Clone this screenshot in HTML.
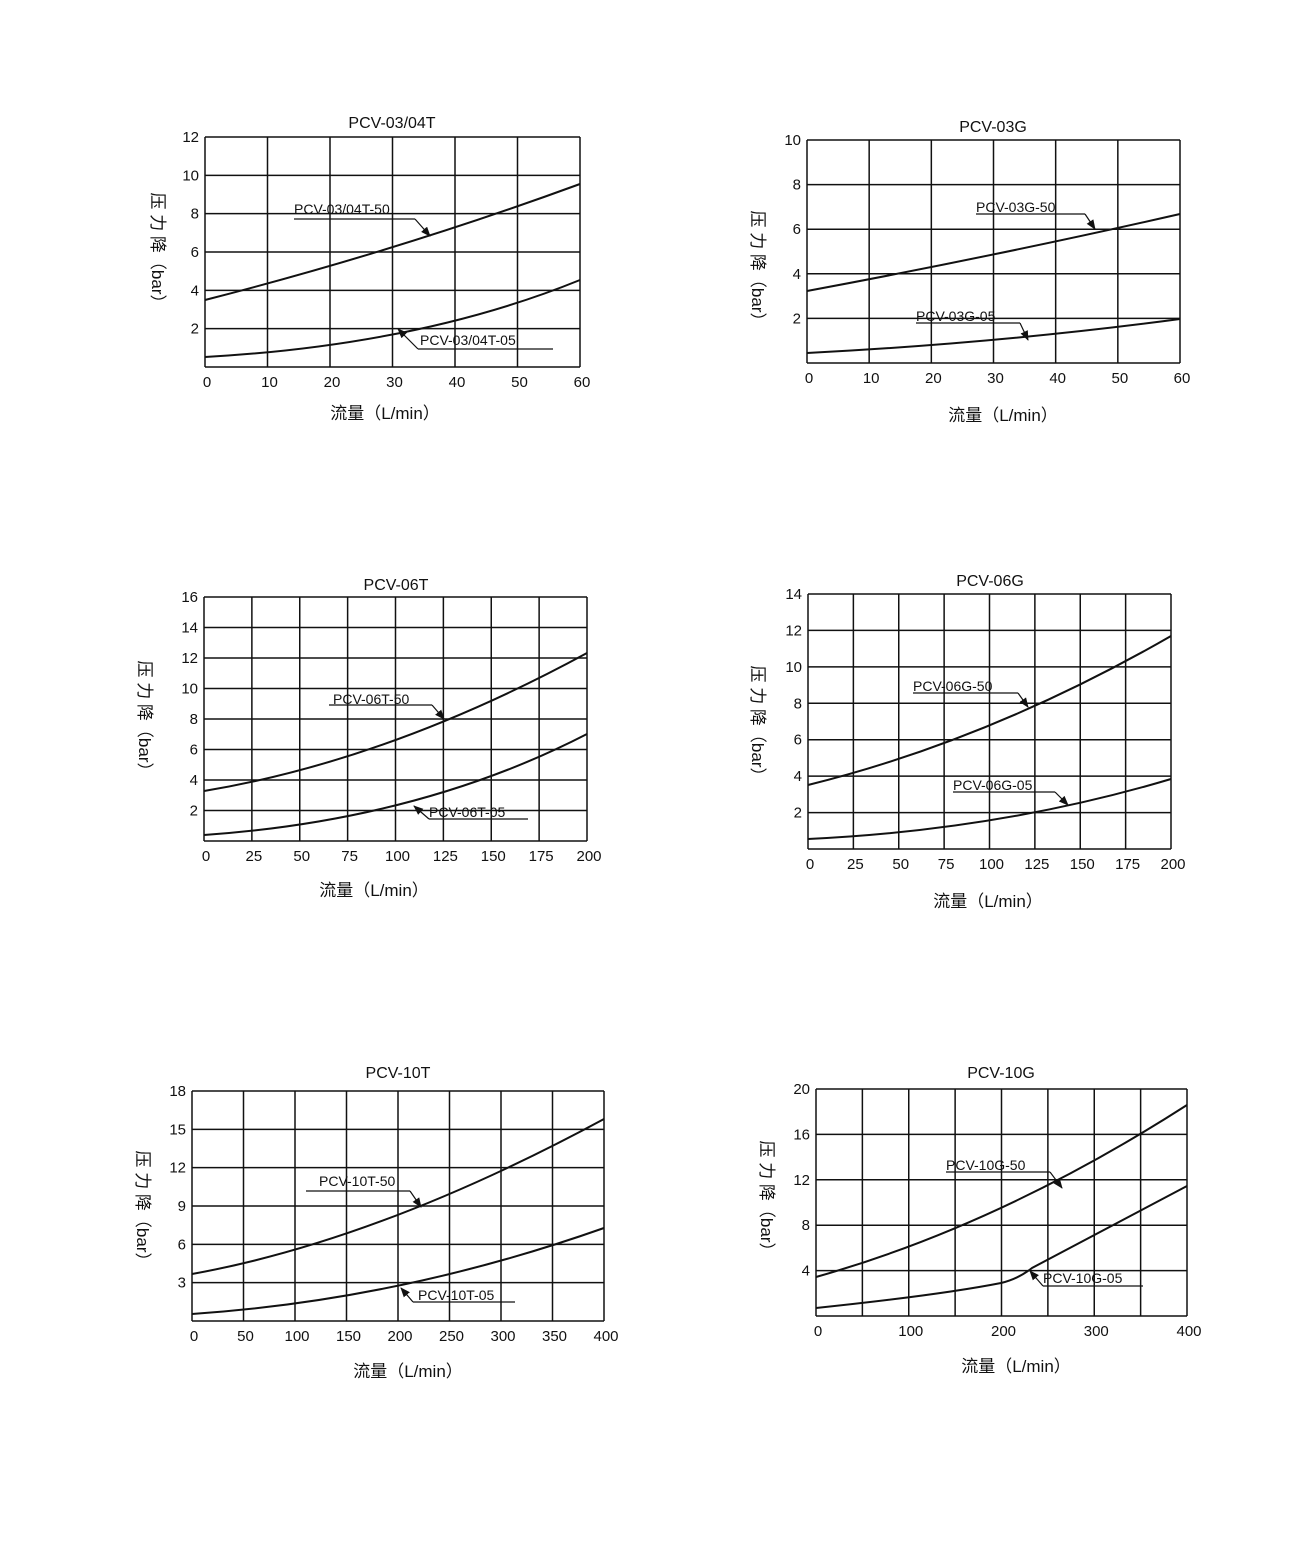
<!DOCTYPE html>
<html><head><meta charset="utf-8"><style>
html,body{margin:0;padding:0;background:#fff;}
svg{display:block;font-family:"Liberation Sans","Noto Sans CJK SC",sans-serif;}
</style></head><body>
<svg id="s" width="1300" height="1551" viewBox="0 0 1300 1551" xmlns="http://www.w3.org/2000/svg">
<defs><marker id="a" markerWidth="10" markerHeight="8" refX="9" refY="4" orient="auto" markerUnits="userSpaceOnUse"><path d="M0,0 L10,4 L0,8 Z" fill="#111"/></marker></defs>
</svg>
<script>
const s=document.getElementById('s');const NS='http://www.w3.org/2000/svg';
function el(t,a,txt){const e=document.createElementNS(NS,t);for(const k in a)e.setAttribute(k,a[k]);if(txt!==undefined)e.textContent=txt;s.appendChild(e);return e;}
const charts=[
{t:'PCV-03/04T',x0:205,x1:580,y0:137,y1:367,nx:6,ny:6,xl:['0','10','20','30','40','50','60'],xs:1,yl:['','2','4','6','8','10','12'],tx:392,ty:128,yx:158,yy:252,ax:385,ay:419,
 c:['M205,300 Q400,250 580,184','M205,357 Q420,345 580,280'],
 L:[['PCV-03/04T-50',294,214,294,415,219,430,236],['PCV-03/04T-05',420,345,418,553,349,398,329]]},
{t:'PCV-03G',x0:807,x1:1180,y0:140,y1:363,nx:6,ny:5,xl:['0','10','20','30','40','50','60'],xs:1,yl:['','2','4','6','8','10'],tx:993,ty:132,yx:758,yy:270,ax:1003,ay:421,
 c:['M807,291 Q1000,255 1180,214','M807,353 Q1000,343 1180,319'],
 L:[['PCV-03G-50',976,212,976,1085,214,1095,229],['PCV-03G-05',916,321,916,1020,323,1028,340]]},
{t:'PCV-06T',x0:204,x1:587,y0:597,y1:841,nx:8,ny:8,xl:['0','25','50','75','100','125','150','175','200'],xs:1,yl:['','2','4','6','8','10','12','14','16'],tx:396,ty:590,yx:145,yy:720,ax:374,ay:896,
 c:['M204,791 Q390,760 587,653','M204,835 Q420,820 587,734'],
 L:[['PCV-06T-50',333,704,329,432,705,444,719],['PCV-06T-05',429,817,429,528,819,414,806]]},
{t:'PCV-06G',x0:808,x1:1171,y0:594,y1:849,nx:8,ny:7,xl:['0','25','50','75','100','125','150','175','200'],xs:1,yl:['','2','4','6','8','10','12','14'],tx:990,ty:586,yx:758,yy:725,ax:988,ay:907,
 c:['M808,785 Q990,740 1171,636','M808,839 Q1000,830 1171,779'],
 L:[['PCV-06G-50',913,691,913,1018,693,1028,707],['PCV-06G-05',953,790,953,1055,792,1068,805]]},
{t:'PCV-10T',x0:192,x1:604,y0:1091,y1:1321,nx:8,ny:6,xl:['0','50','100','150','200','250','300','350','400'],xs:1,yl:['','3','6','9','12','15','18'],tx:398,ty:1078,yx:143,yy:1210,ax:408,ay:1377,
 c:['M192,1274 Q380,1240 604,1119','M192,1314 Q400,1300 604,1228'],
 L:[['PCV-10T-50',319,1186,306,410,1191,421,1207],['PCV-10T-05',418,1300,413,515,1302,401,1288]]},
{t:'PCV-10G',x0:816,x1:1187,y0:1089,y1:1316,nx:8,ny:5,xl:['0','100','200','300','400'],xs:2,yl:['','4','8','12','16','20'],tx:1001,ty:1078,yx:767,yy:1200,ax:1016,ay:1372,
 c:['M816,1277 Q1000,1225 1187,1105','M816,1308 Q940,1295 1001,1283 Q1018,1279 1032,1268 L1187,1186'],
 L:[['PCV-10G-50',946,1170,946,1050,1172,1062,1188],['PCV-10G-05',1043,1283,1043,1143,1286,1030,1271]]}
];
for(const c of charts){
 const w=c.x1-c.x0,h=c.y1-c.y0;
 for(let i=0;i<=c.nx;i++){const x=c.x0+w*i/c.nx;el('line',{x1:x,y1:c.y0,x2:x,y2:c.y1,stroke:'#111','stroke-width':1.5});}
 for(let j=0;j<=c.ny;j++){const y=c.y1-h*j/c.ny;el('line',{x1:c.x0,y1:y,x2:c.x1,y2:y,stroke:'#111','stroke-width':1.5});
  el('text',{x:c.x0-6,y:y+5,'text-anchor':'end','font-size':15,fill:'#111'},c.yl[j]);}
 c.xl.forEach((l,i)=>{const x=c.x0+w*i*c.xs/c.nx;el('text',{x:x+2,y:c.y1+20,'text-anchor':'middle','font-size':15,fill:'#111'},l);});
 el('text',{x:c.tx,y:c.ty,'text-anchor':'middle','font-size':16,fill:'#111'},c.t);
 el('text',{x:c.ax,y:c.ay,'text-anchor':'middle','font-size':17,fill:'#111'},'流量（L/min）');
 el('text',{x:0,y:0,'text-anchor':'middle','font-size':17,fill:'#111',transform:`translate(${c.yx-6},${c.yy}) rotate(90)`},'压 力 降（bar）');
 for(const d of c.c)el('path',{d:d,fill:'none',stroke:'#111','stroke-width':2});
 for(const L of c.L){
  el('text',{x:L[1],y:L[2],'font-size':14,fill:'#111'},L[0]);
  el('line',{x1:L[3],y1:L[5],x2:L[4],y2:L[5],stroke:'#111','stroke-width':1.2});
  const sx=Math.abs(L[6]-L[4])<Math.abs(L[6]-L[3])?L[4]:L[3];
  el('line',{x1:sx,y1:L[5],x2:L[6],y2:L[7],stroke:'#111','stroke-width':1.2,'marker-end':'url(#a)'});
 }
}
</script>
</body></html>
